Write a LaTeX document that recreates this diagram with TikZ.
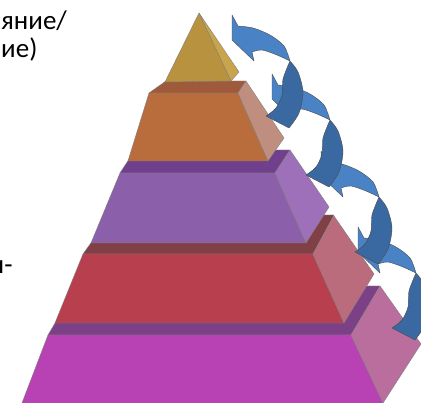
\documentclass[tikz,border=0pt]{standalone}
\usepackage{fontspec}
\setmainfont{Carlito}
\definecolor{goldF}{RGB}{184,146,62}
\definecolor{goldS}{RGB}{202,164,74}
\definecolor{orgF}{RGB}{185,108,60}
\definecolor{orgT}{RGB}{158,90,58}
\definecolor{orgS}{RGB}{192,142,126}
\definecolor{purF}{RGB}{140,95,170}
\definecolor{purT}{RGB}{112,64,140}
\definecolor{purS}{RGB}{157,112,185}
\definecolor{redF}{RGB}{184,64,78}
\definecolor{redT}{RGB}{128,64,70}
\definecolor{redS}{RGB}{186,108,124}
\definecolor{magF}{RGB}{184,66,180}
\definecolor{magT}{RGB}{124,64,134}
\definecolor{magS}{RGB}{186,110,158}
\definecolor{arrL}{RGB}{74,130,198}
\definecolor{arrD}{RGB}{58,104,160}

\begin{document}
\begin{tikzpicture}[x=1pt, y=-1pt, line join=round,
  face/.style={draw=black!50, line width=0.4pt},
  band/.style={draw=black!70, line width=0.4pt},
  lbl/.style={anchor=base west, inner sep=0pt, font=\fontsize{27}{30}\selectfont},
  curl/.pic={
    \filldraw[band, fill=arrL] (0,0) -- (6,11)
      -- plot[smooth] coordinates {(6,11) (21,13) (38,20) (52,31) (58,46)}
      -- plot[smooth] coordinates {(58,46) (45,40) (30,35) (20,37)}
      -- (22,46) -- (0,25) -- cycle;
    \filldraw[band, fill=arrD] (58,46)
      -- plot[smooth] coordinates {(58,46) (66,57) (71,77) (67,98) (57,113)}
      -- (34,101)
      -- plot[smooth] coordinates {(34,101) (44,93) (50,80) (51,64) (58,46)} -- cycle;
  }]
  \useasboundingbox (0,0) rectangle (421,403);
  \clip (0,0) rectangle (421,403);

  \node[lbl] (top1) at (1,30) {яние/};
  \node[lbl] (top2) at (1,58) {ие)};
  \node[lbl] (mid1) at (-10.5,274) {и-};

  % magenta
  \filldraw[face, fill=magT] (48,335) -- (351,335) -- (380,286) -- (77,286) -- cycle;
  \filldraw[face, fill=magF] (48,335) -- (351,335) -- (383,403) -- (22,403) -- cycle;
  \filldraw[face, fill=magS] (351,335) -- (380,286) -- (421,344) -- (383,403) -- cycle;
  % red
  \filldraw[face, fill=redT] (83,254) -- (313,254) -- (334,215) -- (111,215) -- cycle;
  \filldraw[face, fill=redF] (83,254) -- (313,254) -- (344,323) -- (55,323) -- cycle;
  \filldraw[face, fill=redS] (313,254) -- (334,216) -- (374,274) -- (344,323) -- cycle;
  % purple
  \filldraw[face, fill=purT] (120,173) -- (275,173) -- (290,150) -- (135,150) -- cycle;
  \filldraw[face, fill=purF] (120,173) -- (275,173) -- (306,243) -- (91,243) -- cycle;
  \filldraw[face, fill=purS] (275,173) -- (290,150) -- (329,207) -- (306,243) -- cycle;
  % orange
  \filldraw[face, fill=orgT] (149,93) -- (238,93) -- (246,81) -- (166,81) -- cycle;
  \filldraw[face, fill=orgF] (149,93) -- (238,93) -- (268,161) -- (128,161) -- cycle;
  \filldraw[face, fill=orgS] (238,93) -- (246,81) -- (284,138) -- (268,161) -- cycle;
  % gold
  \filldraw[face, fill=goldF] (199,13) -- (231,81) -- (165,82) -- cycle;
  \filldraw[face, fill=goldS] (199,13) -- (239,72) -- (231,81) -- cycle;

  \pic at (358,227) {curl};
  \pic at (321,151) {curl};
  \pic at (272,74) {curl};
  \pic at (232,15) {curl};
\end{tikzpicture}
\end{document}
